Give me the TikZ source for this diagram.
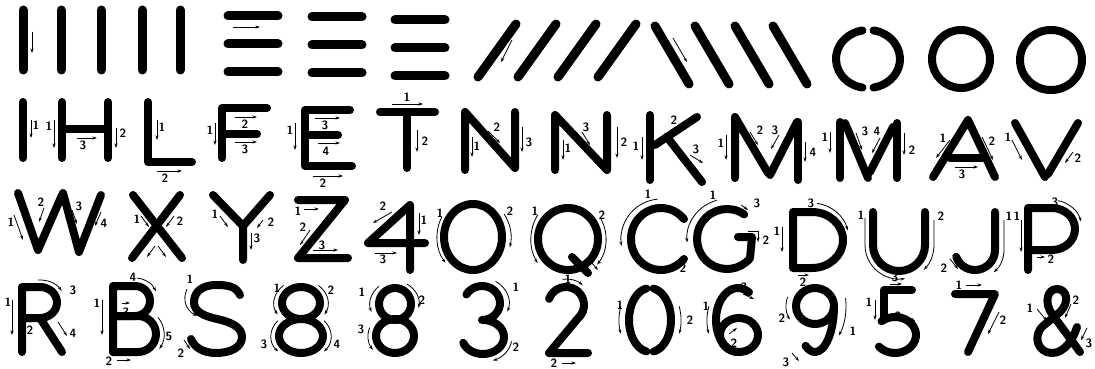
\documentclass[tikz,border=0pt]{standalone}
\usepackage{tikz}
\usetikzlibrary{arrows.meta}

\begin{document}
\begin{tikzpicture}[x=1pt,y=-1pt,
  stroke/.style={line width=8pt, line cap=round, line join=round},
  arr/.style={line width=0.8pt, -{Stealth[length=4.5pt,width=3pt]}},
  num/.style={font=\sffamily\bfseries\fontsize{12}{12}\selectfont, inner sep=0pt}]
  \useasboundingbox (0,0) rectangle (1095,369); % 図全体の大きさ

  % 1段目：基本の線
  \foreach \x in {23,61,101,142,180}
    \draw[stroke, line width=9pt] (\x,10) -- (\x,70); % 縦線
  \draw[arr] (32,32) -- (32,53);
  \foreach \x/\d in {228/0,312/1,395/4}
    \foreach \y in {16,44,72}
      \draw[stroke, line width=9pt] (\x,\y+\d) -- (\x+50,\y+\d); % 横線
  \draw[arr] (233,27) -- (260,27);
  \foreach \x in {478,518,558,598}
    \draw[stroke, line width=9pt] (\x,77) -- (\x+38,24); % 右上がりの斜線
  \draw[arr] (512,40) -- (501,62);
  \foreach \x in {655,695,735,773}
    \draw[stroke, line width=9pt] (\x,26) -- (\x+34,84); % 右下がりの斜線
  \draw[arr] (673,38) -- (687,62);
  \draw[stroke] ([shift={(100:32 and 29)}]868,59) arc[start angle=100, end angle=260, x radius=32, y radius=29]; % 左半円
  \draw[stroke] ([shift={(-80:32 and 29)}]868,59) arc[start angle=-80, end angle=80, x radius=32, y radius=29]; % 右半円
  \draw[stroke] (961,59) ellipse[x radius=29, y radius=29];
  \draw[stroke] (1051,60) ellipse[x radius=31, y radius=30];

  % 2段目：I H L F E T N N K M M A V
  \draw[stroke] (23,102) -- (23,158); % I
  \draw[arr] (31,120) -- (31,138); \node[num] (I1) at (36,125) {1};
  \draw[stroke] (62,102) -- (62,158); % H
  \draw[stroke] (108,102) -- (108,158);
  \draw[stroke] (62,129) -- (108,129);
  \draw[arr] (54,120) -- (54,148); \node[num] (H1) at (49,126) {1};
  \draw[arr] (116,128) -- (116,148); \node[num] (H2) at (123,133) {2};
  \draw[arr] (77,138) -- (97,138); \node[num] (H3) at (83,145) {3};
  \draw[stroke] (148,102) -- (148,162) -- (192,162); % L
  \draw[arr] (157,120) -- (157,140); \node[num] (L1) at (162,127) {1};
  \draw[arr] (157,171) -- (182,171); \node[num] (L2) at (165,178) {2};
  \draw[stroke] (222,158) -- (222,108) -- (267,108); % F
  \draw[stroke] (222,134) -- (257,134);
  \draw[arr] (215,123) -- (215,145); \node[num] (F1) at (210,130) {1};
  \draw[arr] (235,117) -- (257,117); \node[num] (F2) at (245,124) {2};
  \draw[arr] (235,142) -- (257,142); \node[num] (F3) at (245,149) {3};
  \draw[stroke] (350,110) -- (305,110) -- (305,166) -- (352,166); % E
  \draw[stroke] (305,135) -- (338,135);
  \draw[arr] (295,123) -- (295,150); \node[num] (E1) at (290,130) {1};
  \draw[arr] (313,176) -- (343,176); \node[num] (E2) at (323,183) {2};
  \draw[arr] (315,118) -- (340,118); \node[num] (E3) at (325,125) {3};
  \draw[arr] (318,143) -- (340,143); \node[num] (E4) at (326,151) {4};
  \draw[stroke] (380,112) -- (435,112); % T
  \draw[stroke] (407,112) -- (407,168);
  \draw[arr] (392,104) -- (423,104); \node[num] (T1) at (407,97) {1};
  \draw[arr] (417,130) -- (417,152); \node[num] (T2) at (425,141) {2};
  \draw[stroke] (465,170) -- (465,112) -- (515,168) -- (515,112); % N
  \draw[arr] (472,137) -- (472,157); \node[num] (Na1) at (477,146) {1};
  \draw[arr] (488,131) -- (500,143); \node[num] (Na2) at (497,127) {2};
  \draw[arr] (522,127) -- (522,152); \node[num] (Na3) at (529,142) {3};
  \draw[stroke] (555,170) -- (555,115) -- (607,170) -- (607,115); % N（別の書き順）
  \draw[arr] (563,140) -- (563,160); \node[num] (Nb1) at (568,148) {1};
  \draw[arr] (617,127) -- (617,158); \node[num] (Nb2) at (624,142) {2};
  \draw[arr] (582,132) -- (590,145); \node[num] (Nb3) at (586,127) {3};
  \draw[stroke] (650,115) -- (650,180); % K
  \draw[stroke] (697,117) -- (655,145);
  \draw[stroke] (667,137) -- (702,182);
  \draw[arr] (642,137) -- (642,160); \node[num] (K1) at (636,146) {1};
  \draw[arr] (676,127) -- (662,137); \node[num] (K2) at (674,120) {2};
  \draw[arr] (690,155) -- (703,163); \node[num] (K3) at (696,149) {3};
  \draw[stroke] (735,178) -- (735,117) -- (768,173); % M
  \draw[stroke] (797,122) -- (770,175);
  \draw[stroke] (798,122) -- (798,180);
  \draw[arr] (726,135) -- (726,160); \node[num] (Ma1) at (721,143) {1};
  \draw[arr] (750,132) -- (758,145); \node[num] (Ma2) at (760,130) {2};
  \draw[arr] (779,135) -- (771,149); \node[num] (Ma3) at (775,130) {3};
  \draw[arr] (805,142) -- (805,162); \node[num] (Ma4) at (813,152) {4};
  \draw[stroke] (840,178) -- (840,122); % M（別の書き順）
  \draw[stroke] (845,123) -- (868,178);
  \draw[stroke] (893,127) -- (870,172);
  \draw[stroke] (897,123) -- (897,178);
  \draw[arr] (830,132) -- (830,153); \node[num] (Mb1) at (825,137) {1};
  \draw[arr] (904,133) -- (904,155); \node[num] (Mb2) at (912,150) {2};
  \draw[arr] (856,133) -- (862,150); \node[num] (Mb3) at (865,131) {3};
  \draw[arr] (880,138) -- (872,153); \node[num] (Mb4) at (877,131) {4};
  \draw[stroke] (933,177) -- (968,120) -- (995,177); % A
  \draw[stroke] (950,158) -- (982,158);
  \draw[arr] (950,140) -- (936,158); \node[num] (A1) at (943,138) {1};
  \draw[arr] (982,137) -- (993,160); \node[num] (A2) at (992,141) {2};
  \draw[arr] (955,167) -- (978,167); \node[num] (A3) at (962,174) {3};
  \draw[stroke] (1015,123) -- (1045,177); % V
  \draw[stroke] (1078,123) -- (1048,174);
  \draw[arr] (1012,140) -- (1022,160); \node[num] (V1) at (1008,137) {1};
  \draw[arr] (1073,152) -- (1065,163); \node[num] (V2) at (1078,158) {2};

  % 3段目：W X Y Z 4 O Q C G D U J P
  \draw[stroke] (18,193) -- (38,250) -- (62,195); % W
  \draw[stroke] (63,193) -- (79,252) -- (101,195);
  \draw[arr] (14,215) -- (23,240); \node[num] (W1) at (11,222) {1};
  \draw[arr] (44,208) -- (39,222); \node[num] (W2) at (41,202) {2};
  \draw[arr] (72,210) -- (77,224); \node[num] (W3) at (79,206) {3};
  \draw[arr] (101,212) -- (95,226); \node[num] (W4) at (104,223) {4};
  \draw[stroke] (133,195) -- (182,258); % X
  \draw[stroke] (180,195) -- (132,258);
  \draw[arr] (141,216) -- (149,227); \node[num] (X1) at (137,219) {1};
  \draw[arr] (174,216) -- (166,227); \node[num] (X2) at (180,221) {2};
  \draw[arr] (155,246) -- (147,257);
  \draw[arr] (158,246) -- (166,257);
  \draw[stroke] (213,195) -- (243,226) -- (243,260); % Y
  \draw[stroke] (270,195) -- (243,226);
  \draw[arr] (220,216) -- (228,227); \node[num] (Y1) at (215,214) {1};
  \draw[arr] (263,220) -- (257,228); \node[num] (Y2) at (271,222) {2};
  \draw[arr] (251,233) -- (251,250); \node[num] (Y3) at (257,238) {3};
  \draw[stroke] (298,200) -- (345,200) -- (298,258) -- (348,258); % Z
  \draw[arr] (304,209) -- (319,209); \node[num] (Z1) at (298,211) {1};
  \draw[arr] (310,230) -- (300,245); \node[num] (Z2) at (303,227) {2};
  \draw[arr] (313,250) -- (338,250); \node[num] (Z3) at (322,245) {3};
  \draw[stroke] (410,270) -- (410,205) -- (368,243) -- (425,243); % 4
  \draw[arr] (419,213) -- (419,235); \node[num] (F41) at (424,220) {1};
  \draw[arr] (392,212) -- (373,223); \node[num] (F42) at (383,206) {2};
  \draw[arr] (375,253) -- (397,253); \node[num] (F43) at (383,259) {3};
  \draw[stroke] (473,237) ellipse[x radius=29, y radius=33]; % O
  \draw[arr] ([shift={(210:36 and 40)}]473,237) arc[start angle=210, end angle=140, x radius=36, y radius=40];
  \node[num] (O1) at (440,213) {1};
  \draw[arr] ([shift={(-35:38 and 40)}]473,237) arc[start angle=-35, end angle=15, x radius=38, y radius=40];
  \node[num] (O2) at (510,211) {2};
  \draw[stroke] (568,239) ellipse[x radius=30, y radius=31]; % Q
  \draw[stroke] (572,257) -- (588,273);
  \draw[arr] ([shift={(215:37 and 42)}]568,239) arc[start angle=215, end angle=145, x radius=37, y radius=42];
  \node[num] (Q1) at (535,211) {1};
  \draw[arr] ([shift={(-30:38 and 40)}]568,239) arc[start angle=-30, end angle=40, x radius=38, y radius=40];
  \node[num] (Q2) at (602,215) {2};
  \draw[arr] (591,262) -- (598,270);
  \draw[stroke] ([shift={(320:30 and 31)}]661,239) arc[start angle=320, end angle=40, x radius=30, y radius=31]; % C
  \draw[arr] ([shift={(265:40 and 40)}]661,239) arc[start angle=265, end angle=170, x radius=40, y radius=40];
  \node[num] (C1) at (648,194) {1};
  \draw[arr] (677,265) -- (668,272); \node[num] (C2) at (683,268) {2};
  \draw[stroke] ([shift={(305:30 and 30)}]727,239) arc[start angle=305, end angle=40, x radius=30, y radius=30] -- (752,237) -- (738,237); % G
  \draw[arr] ([shift={(255:40 and 40)}]727,239) arc[start angle=255, end angle=175, x radius=40, y radius=40];
  \node[num] (G1) at (713,195) {1};
  \draw[arr] (748,231) -- (758,231) -- (758,242); \node[num] (G2) at (766,240) {2};
  \draw[arr] (741,205) -- (748,210); \node[num] (G3) at (757,203) {3};
  \draw[stroke] (812,268) -- (793,268) -- (793,212) -- (812,212) arc[start angle=270, end angle=450, x radius=31, y radius=28]; % D
  \draw[arr] (782,227) -- (782,252); \node[num] (D1) at (777,231) {1};
  \draw[arr] (798,275) -- (809,275); \node[num] (D2) at (803,282) {2};
  \draw[arr] ([shift={(278:37 and 37)}]812,240) arc[start angle=278, end angle=345, x radius=37, y radius=37];
  \node[num] (D3) at (811,203) {3};
  \draw[stroke] (873,212) -- (873,245) arc[start angle=180, end angle=0, radius=26] -- (925,212); % U
  \draw[arr] (865,218) -- (865,245) arc[start angle=180, end angle=80, radius=34];
  \node[num] (U1) at (861,215) {1};
  \draw[arr] (934,220) -- (934,245) arc[start angle=0, end angle=45, radius=35];
  \node[num] (U2) at (941,216) {2};
  \draw[stroke] (995,212) -- (995,250) arc[start angle=0, end angle=160, radius=20]; % J
  \draw[arr] (1004,220) -- (1004,250) arc[start angle=0, end angle=50, radius=29];
  \node[num] (J1) at (1009,216) {1};
  \draw[arr] (950,259) -- (958,269); \node[num] (J2) at (944,268) {2};
  \draw[stroke] (1028,270) -- (1028,208) -- (1052,208) arc[start angle=270, end angle=450, x radius=23, y radius=21] -- (1028,250); % P
  \draw[arr] (1021,220) -- (1021,252); \node[num] (P1) at (1017,216) {1};
  \draw[arr] (1037,257) -- (1045,257); \node[num] (P2) at (1051,259) {2};
  \draw[arr] ([shift={(282:30 and 29)}]1052,229) arc[start angle=282, end angle=345, x radius=30, y radius=29];
  \node[num] (P3) at (1055,202) {3};

  % 4段目：R B S 8 8 3 2 0 6 9 5 7 &
  \draw[stroke] (22,352) -- (22,287) -- (40,287) arc[start angle=270, end angle=450, x radius=17, y radius=15.5] -- (22,318); % R
  \draw[stroke] (40,318) -- (62,352);
  \draw[arr] (12,300) -- (12,335); \node[num] (R1) at (8,302) {1};
  \draw[arr] (27,321) -- (34,321); \node[num] (R2) at (30,330) {2};
  \draw[arr] ([shift={(265:25 and 22)}]40,302) arc[start angle=265, end angle=330, x radius=25, y radius=22];
  \node[num] (R3) at (73,290) {3};
  \draw[arr] (58,322) -- (67,336); \node[num] (R4) at (73,333) {4};
  \draw[stroke] (113,352) -- (113,286) -- (135,286) arc[start angle=270, end angle=450, x radius=15, y radius=15] -- (113,316); % B
  \draw[stroke] (113,316) -- (138,316) arc[start angle=270, end angle=450, x radius=18, y radius=18] -- (113,352);
  \draw[arr] (102,300) -- (102,335); \node[num] (B1) at (97,303) {1};
  \draw[arr] (117,360) -- (131,360); \node[num] (B2) at (109,361) {2};
  \draw[arr] (122,303) -- (130,303); \node[num] (B3) at (126,312) {3};
  \draw[arr] ([shift={(275:23 and 23)}]135,301) arc[start angle=275, end angle=335, x radius=23, y radius=23];
  \node[num] (B4) at (133,277) {4};
  \draw[arr] ([shift={(320:26 and 26)}]138,334) arc[start angle=320, end angle=395, x radius=26, y radius=26];
  \node[num] (B5) at (169,336) {5};
  \draw[stroke] (240,295) .. controls (236,286) and (227,285) .. (216,285) .. controls (201,285) and (194,293) .. (194,302) .. controls (194,312) and (204,316) .. (217,319) .. controls (231,322) and (242,327) .. (242,337) .. controls (242,347) and (231,353) .. (216,353) .. controls (203,353) and (194,347) .. (191,339); % S
  \draw[arr] (187,289) .. controls (182,300) and (186,310) .. (197,316); \node[num] (S1) at (190,279) {1};
  \draw[arr] (184,340) -- (190,349); \node[num] (S2) at (181,353) {2};
  \draw[stroke] (301,303) ellipse[x radius=19, y radius=16]; % 8
  \draw[stroke] (301,336) ellipse[x radius=22, y radius=17];
  \draw[arr] ([shift={(230:27 and 23)}]301,303) arc[start angle=230, end angle=150, x radius=27, y radius=23]; \node[num] (Ea1) at (277,288) {1};
  \draw[arr] ([shift={(310:27 and 23)}]301,303) arc[start angle=310, end angle=390, x radius=27, y radius=23]; \node[num] (Ea2) at (331,290) {2};
  \draw[arr] ([shift={(220:30 and 24)}]301,336) arc[start angle=220, end angle=140, x radius=30, y radius=24]; \node[num] (Ea3) at (264,344) {3};
  \draw[arr] ([shift={(320:30 and 24)}]301,336) arc[start angle=320, end angle=400, x radius=30, y radius=24]; \node[num] (Ea4) at (337,344) {4};
  \draw[stroke] (395,304) ellipse[x radius=16, y radius=16]; % 8（別の書き順）
  \draw[stroke] (395,336) ellipse[x radius=19, y radius=17];
  \draw[arr] ([shift={(230:25 and 23)}]395,304) arc[start angle=230, end angle=160, x radius=25, y radius=23]; \node[num] (Eb1) at (362,292) {1};
  \draw[arr] ([shift={(300:24 and 23)}]395,304) arc[start angle=300, end angle=370, x radius=24, y radius=23]; \node[num] (Eb2) at (422,300) {2};
  \draw[arr] ([shift={(200:27 and 24)}]395,336) arc[start angle=200, end angle=145, x radius=27, y radius=24]; \node[num] (Eb3) at (361,329) {3};
  \draw[stroke] ([shift={(210:18 and 17)}]482,303) arc[start angle=210, end angle=450, x radius=18, y radius=17]; % 3
  \draw[stroke] ([shift={(270:21 and 17)}]483,337) arc[start angle=270, end angle=520, x radius=21, y radius=17];
  \draw[arr] ([shift={(300:27 and 25)}]482,303) arc[start angle=300, end angle=380, x radius=27, y radius=25]; \node[num] (Th1) at (516,287) {1};
  \draw[arr] ([shift={(10:29 and 25)}]483,337) arc[start angle=10, end angle=70, x radius=29, y radius=25]; \node[num] (Th2) at (516,347) {2};
  \draw[stroke] ([shift={(200:18 and 18)}]566,305) arc[start angle=200, end angle=410, x radius=18, y radius=18] -- (549,353) -- (588,353); % 2
  \draw[arr] ([shift={(262:26 and 26)}]566,305) arc[start angle=262, end angle=310, x radius=26, y radius=26]; \node[num] (Tw1) at (568,279) {1};
  \draw[arr] (562,363) -- (576,363); \node[num] (Tw2) at (554,363) {2};
  \draw[stroke] ([shift={(100:21 and 32)}]650,320) arc[start angle=100, end angle=260, x radius=21, y radius=32]; % 0
  \draw[stroke] ([shift={(-80:21 and 32)}]650,320) arc[start angle=-80, end angle=80, x radius=21, y radius=32];
  \draw[arr] ([shift={(200:31 and 40)}]650,320) arc[start angle=200, end angle=160, x radius=31, y radius=40]; \node[num] (Z01) at (620,305) {1};
  \draw[arr] ([shift={(-20:31 and 40)}]650,320) arc[start angle=-20, end angle=20, x radius=31, y radius=40]; \node[num] (Z02) at (690,320) {2};
  \draw[stroke] ([shift={(300:22 and 32)}]738,320) arc[start angle=300, end angle=90, x radius=22, y radius=32]; % 6
  \draw[stroke] (739,335) ellipse[x radius=19, y radius=17];
  \draw[arr] ([shift={(200:31 and 40)}]738,320) arc[start angle=200, end angle=160, x radius=31, y radius=40]; \node[num] (S61) at (706,306) {1};
  \draw[arr] (729,334) -- (737,328); \node[num] (S62) at (734,343) {2};
  \draw[arr] (743,294) -- (754,299); \node[num] (S63) at (744,287) {3};
  \draw[stroke] (815,306) ellipse[x radius=19, y radius=18]; % 9
  \draw[stroke] ([shift={(0:19 and 46)}]815,306) arc[start angle=0, end angle=120, x radius=19, y radius=46];
  \draw[arr] ([shift={(200:29 and 27)}]815,306) arc[start angle=200, end angle=150, x radius=29, y radius=27]; \node[num] (N91) at (853,331) {1};
  \draw[arr] ([shift={(-10:31 and 46)}]815,306) arc[start angle=-10, end angle=40, x radius=31, y radius=46]; \node[num] (N92) at (782,318) {2};
  \draw[arr] (792,353) -- (799,361); \node[num] (N93) at (786,362) {3};
  \draw[stroke] (912,290) -- (884,290) -- (884,318); % 5
  \draw[stroke] ([shift={(230:21 and 18)}]895,335) arc[start angle=230, end angle=500, x radius=21, y radius=18];
  \draw[arr] (875,300) -- (875,320); \node[num] (F51) at (869,302) {1};
  \draw[arr] (905,316) -- (915,321); \node[num] (F52) at (898,316) {2};
  \draw[arr] (890,284) -- (902,284); \node[num] (F53) at (895,277) {3};
  \draw[stroke] (955,294) -- (995,294) -- (968,352); % 7
  \draw[arr] (966,285) -- (982,285); \node[num] (S71) at (959,285) {1};
  \draw[arr] (999,312) -- (988,334); \node[num] (S72) at (1003,320) {2};
  \draw[stroke] (1080,352) -- (1052,314) .. controls (1044,303) and (1047,289) .. (1057,289) .. controls (1067,289) and (1070,302) .. (1060,312) -- (1043,326) .. controls (1032,336) and (1038,353) .. (1052,353) .. controls (1064,353) and (1073,340) .. (1077,327); % &
  \draw[arr] (1037,309) -- (1047,321); \node[num] (Am1) at (1030,308) {1};
  \draw[arr] (1071,304) -- (1065,318); \node[num] (Am2) at (1076,300) {2};
  \draw[arr] (1087,328) -- (1081,340); \node[num] (Am3) at (1089,343) {3};
\end{tikzpicture}
\end{document}
